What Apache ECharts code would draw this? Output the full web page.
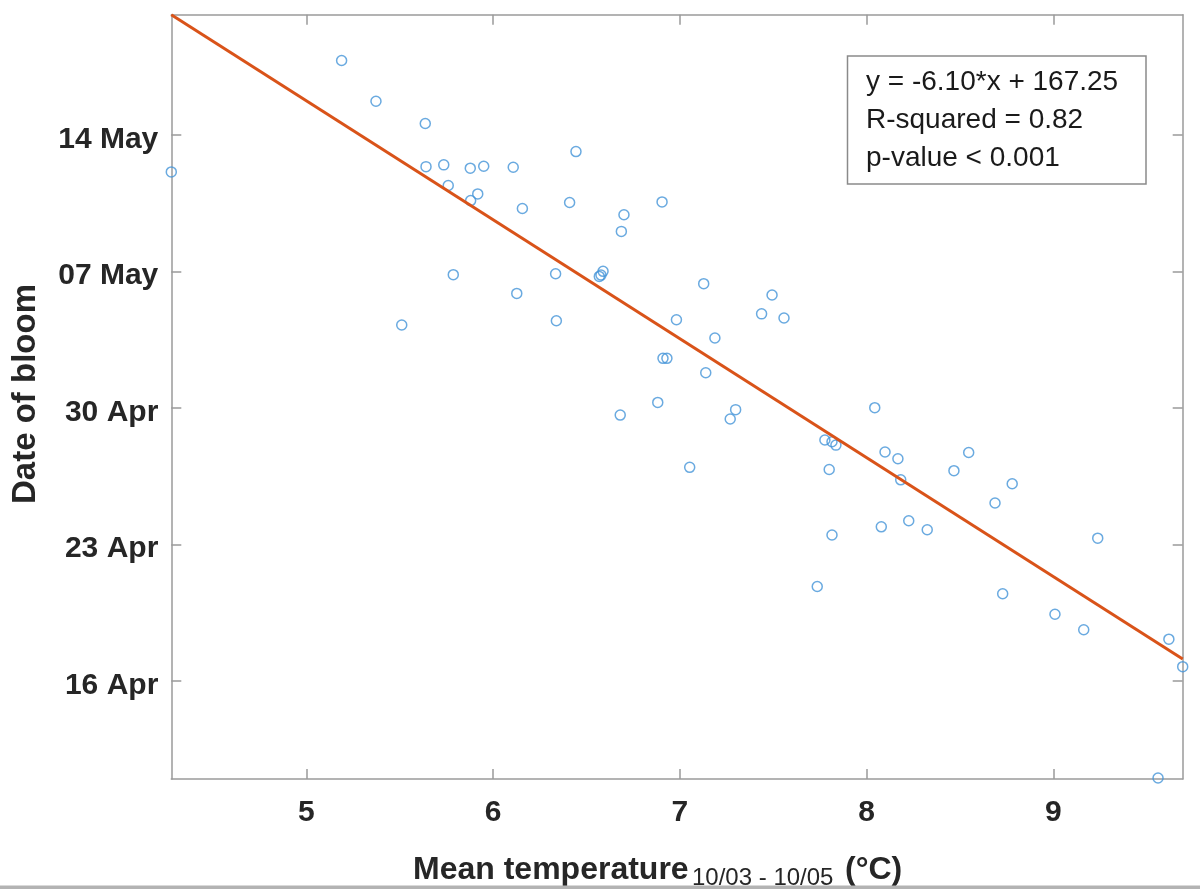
<!DOCTYPE html>
<html>
<head>
<meta charset="utf-8">
<script src="https://cdn.jsdelivr.net/npm/echarts@6/dist/echarts.min.js"></script>
<style>
html,body{margin:0;padding:0;background:#fff;}
#chart{width:1200px;height:889px;}
</style>
</head>
<body>
<div id="chart"></div>
<script>
// Mean temperature (°C), 10/03 - 10/05
var temperature = [
  4.277, 5.189, 5.373, 5.637, 5.641, 5.736, 5.878, 5.950, 6.108, 6.444,
  5.760, 5.918, 5.880, 6.157, 6.410, 6.905, 6.701, 6.687, 5.787, 6.335,
  6.589, 6.569, 6.578, 6.127, 5.511, 6.339, 6.982, 7.128, 7.494, 7.438,
  7.558, 7.188, 6.910, 6.931, 7.139, 6.882, 6.681, 7.299, 7.270, 7.053,
  8.044, 7.777, 7.815, 7.836, 7.800, 8.099, 8.168, 8.183, 8.547, 8.468,
  8.780, 8.688, 7.815, 8.079, 8.226, 8.325, 7.736, 8.729, 9.238, 9.009,
  9.163, 9.619, 9.693, 9.561
];
// Date of bloom, as day of year (14 May = 135)
var bloomDay = [
  133.10, 138.81, 136.72, 135.58, 133.37, 133.46, 133.29, 133.39, 133.34, 134.14,
  132.40, 131.97, 131.63, 131.22, 131.53, 131.56, 130.90, 130.05, 127.83, 127.88,
  128.00, 127.74, 127.81, 126.87, 125.25, 125.47, 125.52, 127.37, 126.79, 125.82,
  125.61, 124.58, 123.54, 123.54, 122.80, 121.28, 120.63, 120.91, 120.43, 117.95,
  121.01, 119.35, 119.26, 119.09, 117.84, 118.74, 118.39, 117.31, 118.71, 117.78,
  117.11, 116.12, 114.48, 114.90, 115.21, 114.75, 111.84, 111.47, 114.32, 110.42,
  109.62, 109.14, 107.73, 102.02
];
// Regression
var slope = -6.10;
var intercept = 167.25;
var statsText = ['y = -6.10*x + 167.25', 'R-squared = 0.82', 'p-value < 0.001'];

// Ticks
var xTicks = [5, 6, 7, 8, 9];
var yTicks = [107, 114, 121, 128, 135];
var yTickLabels = ['16 Apr', '23 Apr', '30 Apr', '07 May', '14 May'];

var xMin = Math.min.apply(null, temperature);
var xMax = Math.max.apply(null, temperature);
var yMin = 101.97;
var yMax = intercept + slope * xMin;

var points = temperature.map(function (t, i) { return [t, bloomDay[i]]; });
var fitLine = [xMin, xMax].map(function (t) { return [t, intercept + slope * t]; });

var FONT = '"Liberation Sans", Arial, Helvetica, sans-serif';
var axisColor = '#9a9a9a';
var textColor = '#262626';

function labelFor(v) {
  for (var i = 0; i < yTicks.length; i++) {
    if (Math.abs(yTicks[i] - v) < 1e-6) return '{t|' + yTickLabels[i] + '}';
  }
  return '';
}

var chart = echarts.init(document.getElementById('chart'), null, {renderer: 'canvas'});

var baseAxisLine = {show: true, onZero: false, lineStyle: {color: axisColor, width: 1.5}};

var option = {
  backgroundColor: '#ffffff',
  animation: false,
  grid: {left: 171.3, top: 14.7, right: 17.3, bottom: 110, containLabel: false},
  xAxis: [
    {
      type: 'value', min: xMin, max: xMax, position: 'bottom',
      axisLine: baseAxisLine,
      axisTick: {show: true, inside: true, length: 10, customValues: xTicks, lineStyle: {color: axisColor, width: 1.5}},
      axisLabel: {show: true, customValues: xTicks, fontSize: 30, fontWeight: 'bold', color: textColor, fontFamily: FONT, margin: 19},
      splitLine: {show: false}
    },
    {
      type: 'value', min: xMin, max: xMax, position: 'top',
      axisLine: baseAxisLine,
      axisTick: {show: true, inside: true, length: 10, customValues: xTicks, lineStyle: {color: axisColor, width: 1.5}},
      axisLabel: {show: false, customValues: xTicks},
      splitLine: {show: false}
    }
  ],
  yAxis: [
    {
      type: 'value', min: yMin, max: yMax, position: 'left',
      axisLine: baseAxisLine,
      axisTick: {show: true, inside: true, length: 10, customValues: yTicks, lineStyle: {color: axisColor, width: 1.5}},
      axisLabel: {
        show: true, customValues: yTicks, formatter: labelFor, margin: 13,
        rich: {t: {fontSize: 30, fontWeight: 'bold', color: textColor, fontFamily: FONT, padding: [9, 0, 0, 0]}}
      },
      splitLine: {show: false}
    },
    {
      type: 'value', min: yMin, max: yMax, position: 'right',
      axisLine: baseAxisLine,
      axisTick: {show: true, inside: true, length: 10, customValues: yTicks, lineStyle: {color: axisColor, width: 1.5}},
      axisLabel: {show: false, customValues: yTicks},
      splitLine: {show: false}
    }
  ],
  series: [
    {
      type: 'scatter', xAxisIndex: 0, yAxisIndex: 0,
      data: points, symbol: 'circle', symbolSize: 10, clip: false,
      itemStyle: {color: 'rgba(0,0,0,0)', borderColor: '#4595d8', borderWidth: 1.5},
      z: 2
    },
    {
      type: 'line', xAxisIndex: 0, yAxisIndex: 0,
      data: fitLine, showSymbol: false, symbol: 'none',
      lineStyle: {color: '#D95319', width: 3},
      z: 3
    }
  ],
  graphic: [
    {
      type: 'text', x: 26, y: 394, rotation: Math.PI / 2,
      style: {text: 'Date of bloom', font: 'bold 33px ' + FONT, fill: textColor, align: 'center', verticalAlign: 'middle'}
    },
    {
      type: 'text', x: 413, y: 870,
      style: {text: 'Mean temperature', font: 'bold 32px ' + FONT, fill: textColor, align: 'left', verticalAlign: 'middle'}
    },
    {
      type: 'text', x: 692, y: 878,
      style: {text: '10/03 - 10/05', font: '24px ' + FONT, fill: textColor, align: 'left', verticalAlign: 'middle'}
    },
    {
      type: 'text', x: 845, y: 870,
      style: {text: '(°C)', font: 'bold 32px ' + FONT, fill: textColor, align: 'left', verticalAlign: 'middle'}
    },
    {
      type: 'rect', shape: {x: 847.5, y: 56, width: 298.5, height: 128},
      style: {fill: '#ffffff', stroke: '#8a8a8a', lineWidth: 1.5}, z: 10
    },
    {
      type: 'text', x: 866, y: 82, z: 11,
      style: {text: statsText[0], font: '28px ' + FONT, fill: '#1a1a1a', align: 'left', verticalAlign: 'middle'}
    },
    {
      type: 'text', x: 866, y: 120, z: 11,
      style: {text: statsText[1], font: '28px ' + FONT, fill: '#1a1a1a', align: 'left', verticalAlign: 'middle'}
    },
    {
      type: 'text', x: 866, y: 158, z: 11,
      style: {text: statsText[2], font: '28px ' + FONT, fill: '#1a1a1a', align: 'left', verticalAlign: 'middle'}
    },
    {
      type: 'rect', shape: {x: 0, y: 885.5, width: 1200, height: 3.5},
      style: {fill: '#b3b3b3'}
    }
  ]
};
chart.setOption(option);
</script>
</body>
</html>
